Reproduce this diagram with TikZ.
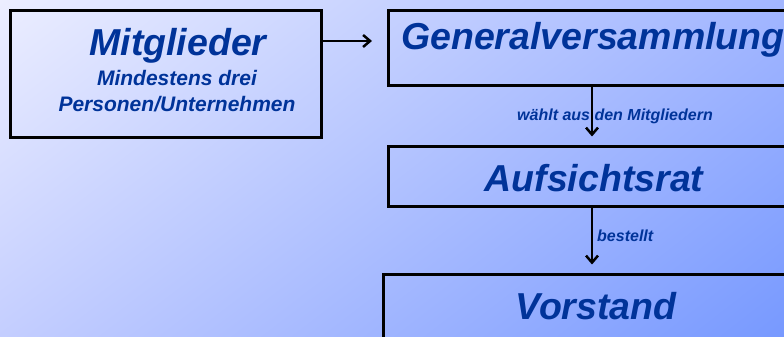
\documentclass[tikz,border=0pt]{standalone}
\usepackage{fontspec}
\setmainfont{Liberation Sans}
\usetikzlibrary{arrows.meta,shadings}

\definecolor{txtblue}{RGB}{0,51,153}
\definecolor{bgtl}{RGB}{236,238,255}
\definecolor{bgtr}{RGB}{162,182,255}
\definecolor{bgbl}{RGB}{196,206,255}
\definecolor{bgbr}{RGB}{119,153,255}

\begin{document}
\begin{tikzpicture}[x=1pt,y=1pt,
    box/.style={draw,line width=3pt,inner sep=0pt},
    big/.style={text=txtblue,inner sep=0pt,anchor=base,font=\fontsize{37.5}{40}\selectfont\bfseries\itshape},
    mid/.style={big,font=\fontsize{21}{24}\selectfont\bfseries\itshape},
    small/.style={big,font=\fontsize{16}{18}\selectfont\bfseries\itshape},
    arr/.style={line width=2.5pt,-{Straight Barb[length=7pt,width=12pt]}}]
  \useasboundingbox (0,0) rectangle (784,337);
  \clip (0,0) rectangle (784,337);
  \shade[upper left=bgtl,upper right=bgtr,lower left=bgbl,lower right=bgbr] (0,0) rectangle (784,337);

  % boxes
  \node[box,minimum width=311pt,minimum height=127pt] (mitglieder) at (165.5,262.5) {};
  \node[box,minimum width=408pt,minimum height=75pt] (gv) at (592,288.5) {};
  \node[box,minimum width=408pt,minimum height=60pt] (ar) at (592,160) {};
  \node[box,minimum width=418pt,minimum height=75pt] (vs) at (592,24.5) {};

  % texts
  \node[big] (mitgliedertxt) at (178,281) {Mitglieder};
  \node[mid] (mindtxt) at (177,251) {Mindestens drei};
  \node[mid] (perstxt) at (177,225) {Personen/Unternehmen};
  \node[big,anchor=base west] (gvtxt) at (401,287) {Generalversammlung};
  \node[big] (artxt) at (594,145) {Aufsichtsrat};
  \node[big] (vstxt) at (596,17) {Vorstand};

  % arrows
  \coordinate (gvin) at (372,296);
  \draw[arr] (mitglieder.east |- gvin) -- (gvin);
  \draw[arr,shorten >=9pt] (gv.south) -- (ar.north);
  \draw[arr,shorten >=9pt] (ar.south) -- (vs.north);
  \node[small] (waehlt) at (615,216) {wählt aus den Mitgliedern};
  \node[small,anchor=base west] (bestellt) at (597,95) {bestellt};
\end{tikzpicture}
\end{document}
